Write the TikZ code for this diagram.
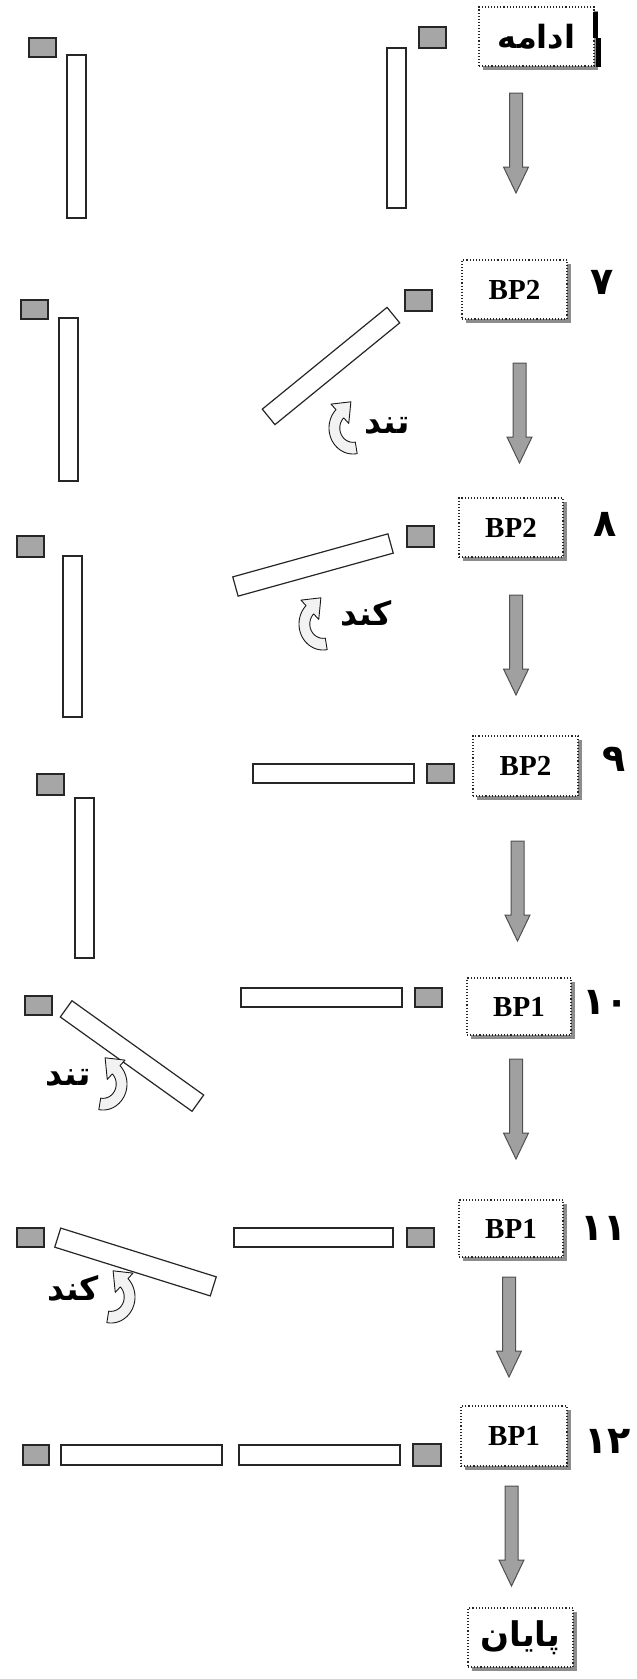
\documentclass[tikz,border=0pt]{standalone}
\usepackage{fontspec}
\setmainfont{Liberation Serif}
\newfontfamily\arabicfont[Script=Arabic]{DejaVu Sans}
\TeXXeTstate=1
\usetikzlibrary{shadows}
\definecolor{grayfill}{HTML}{A6A6A6}
\definecolor{edge}{HTML}{262626}
\definecolor{arrowfill}{HTML}{A0A0A0}
\definecolor{arrowedge}{HTML}{505050}
\definecolor{shadowgray}{HTML}{8C8C8C}
\definecolor{cfill}{HTML}{F2F2F2}
\tikzset{
  gbox/.style={draw=edge, fill=grayfill, line width=1.3pt, inner sep=0pt},
  wbar/.style={draw=edge, fill=white, line width=1.2pt, inner sep=0pt},
  pbox/.style={draw=black!85, dotted, line width=1.1pt, fill=white, inner sep=0pt,
    drop shadow={shadow xshift=4pt, shadow yshift=-4pt, fill=shadowgray, opacity=1, draw=none},
    font=\fontsize{29}{32}\selectfont\bfseries},
  numlabel/.style={font=\arabicfont\bfseries\fontsize{38}{40}\selectfont, inner sep=0pt},
  farsiword/.style={font=\arabicfont\bfseries\fontsize{33}{36}\selectfont, inner sep=0pt},
  arrowstyle/.style={fill=arrowfill, draw=arrowedge, line width=1pt, line join=miter},
  carrowstyle/.style={fill=cfill, draw=black!90, line width=0.9pt, line join=round},
  blockarrow/.pic={
    \draw[arrowstyle] (-6.5,0) -- (6.5,0) -- (6.5,74) -- (12.5,74) -- (0,100)
      -- (-12.5,74) -- (-6.5,74) -- cycle;
  },
  curvarrow/.pic={
    \begin{scope}[yscale=-1.3, xscale=1.2]
      \draw[carrowstyle] (3.47,-19.70)
        -- plot[domain=-80:-225, samples=40] ({20*cos(\x)},{20*sin(\x)})
        -- (-18.38,18.38) -- (-1.77,20.15) -- (-3.54,3.54) -- (-7.78,7.78)
        -- plot[domain=135:280, samples=40] ({11*cos(\x)},{11*sin(\x)})
        -- cycle;
    \end{scope}
  }
}
\begin{document}
\begin{tikzpicture}[x=1pt,y=-1pt]
\useasboundingbox (0,0) rectangle (637,1679);

% ---------- row 0 ----------
\node[gbox, minimum width=27pt, minimum height=19pt] (g0a) at (42.5,47.5) {};
\node[wbar, minimum width=19pt, minimum height=163pt] (v0a) at (76.5,136.5) {};
\node[gbox, minimum width=27pt, minimum height=21pt] (g0b) at (432.5,37.5) {};
\node[wbar, minimum width=19pt, minimum height=160pt] (v0b) at (396.5,128) {};
\node[pbox, minimum width=115pt, minimum height=59pt] (b0) at (536.5,36.5)
  {\arabicfont\bfseries\fontsize{32}{34}\selectfont\beginR ادامه\endR};
\draw[line width=5pt] (595.5,12) -- (595.5,38);
\draw[line width=5pt] (598.5,38) -- (598.5,67);
\pic at (516,93) {blockarrow};

% ---------- row 7 ----------
\node[gbox, minimum width=27pt, minimum height=19pt] (g7a) at (34.5,309.5) {};
\node[wbar, minimum width=19pt, minimum height=163pt] (v7a) at (68.5,399.5) {};
\node[gbox, minimum width=27pt, minimum height=21pt] (g7b) at (418.5,300.5) {};
\node[wbar, minimum width=161pt, minimum height=20pt, rotate=39.2] (t7) at (331,366) {};
\pic at (353,428) {curvarrow};
\node[farsiword] (w7) at (387,426) {\beginR تند\endR};
\node[pbox, minimum width=105pt, minimum height=59pt] (b7) at (514.5,289.5) {BP2};
\node[numlabel] (n7) at (602,282.5) {۷};
\pic at (519.5,363) {blockarrow};

% ---------- row 8 ----------
\node[gbox, minimum width=27pt, minimum height=21pt] (g8a) at (30.5,546.5) {};
\node[wbar, minimum width=19pt, minimum height=161pt] (v8a) at (72.5,636.5) {};
\node[gbox, minimum width=27pt, minimum height=21pt] (g8b) at (420.5,536.5) {};
\node[wbar, minimum width=161pt, minimum height=20pt, rotate=15.5] (t8) at (313,565) {};
\pic at (323,624) {curvarrow};
\node[farsiword] (w8) at (366,613) {\beginR کند\endR};
\node[pbox, minimum width=104pt, minimum height=59pt] (b8) at (511,527.5) {BP2};
\node[numlabel] (n8) at (605,524.5) {۸};
\pic at (516,595) {blockarrow};

% ---------- row 9 ----------
\node[gbox, minimum width=27pt, minimum height=21pt] (g9a) at (50.5,784.5) {};
\node[wbar, minimum width=19pt, minimum height=160pt] (v9a) at (84.5,878) {};
\node[wbar, minimum width=161pt, minimum height=19pt] (h9) at (333.5,773.5) {};
\node[gbox, minimum width=27pt, minimum height=19pt] (g9b) at (440.5,773.5) {};
\node[pbox, minimum width=105pt, minimum height=60pt] (b9) at (525.5,766) {BP2};
\node[numlabel] (n9) at (614,759) {۹};
\pic at (517.5,841) {blockarrow};

% ---------- row 10 ----------
\node[gbox, minimum width=27pt, minimum height=19pt] (g10a) at (38.5,1005.5) {};
\node[wbar, minimum width=162pt, minimum height=20pt, rotate=-35.6] (t10) at (132,1056) {};
\pic[xscale=-1] at (103,1084) {curvarrow};
\node[farsiword] (w10) at (68,1078) {\beginR تند\endR};
\node[wbar, minimum width=161pt, minimum height=19pt] (h10) at (321.5,997.5) {};
\node[gbox, minimum width=27pt, minimum height=19pt] (g10b) at (428.5,997.5) {};
\node[pbox, minimum width=104pt, minimum height=57pt] (b10) at (519,1006.5) {BP1};
\node[numlabel] (n10) at (605.5,1002) {۱۰};
\pic at (516,1059) {blockarrow};

% ---------- row 11 ----------
\node[gbox, minimum width=27pt, minimum height=19pt] (g11a) at (30.5,1237.5) {};
\node[wbar, minimum width=163pt, minimum height=20pt, rotate=-17.4] (t11) at (135.5,1262) {};
\pic[xscale=-1] at (111,1297) {curvarrow};
\node[farsiword] (w11) at (73,1288) {\beginR کند\endR};
\node[wbar, minimum width=159pt, minimum height=19pt] (h11) at (313.5,1237.5) {};
\node[gbox, minimum width=27pt, minimum height=19pt] (g11b) at (420.5,1237.5) {};
\node[pbox, minimum width=104pt, minimum height=57pt] (b11) at (511,1228.5) {BP1};
\node[numlabel] (n11) at (603.5,1228) {۱۱};
\pic at (509,1277) {blockarrow};

% ---------- row 12 ----------
\node[gbox, minimum width=26pt, minimum height=20pt] (g12a) at (36,1455) {};
\node[wbar, minimum width=161pt, minimum height=20pt] (h12a) at (141.5,1455) {};
\node[wbar, minimum width=161pt, minimum height=20pt] (h12b) at (319.5,1455) {};
\node[gbox, minimum width=28pt, minimum height=22pt] (g12b) at (427,1455) {};
\node[pbox, minimum width=106pt, minimum height=60pt] (b12) at (514,1436) {BP1};
\node[numlabel] (n12) at (607.5,1441) {۱۲};
\pic at (511.5,1486) {blockarrow};

% ---------- end ----------
\node[pbox, minimum width=105pt, minimum height=59pt] (bend) at (520.5,1637.5)
  {\arabicfont\bfseries\fontsize{34}{36}\selectfont\beginR پایان\endR};
\end{tikzpicture}
\end{document}
